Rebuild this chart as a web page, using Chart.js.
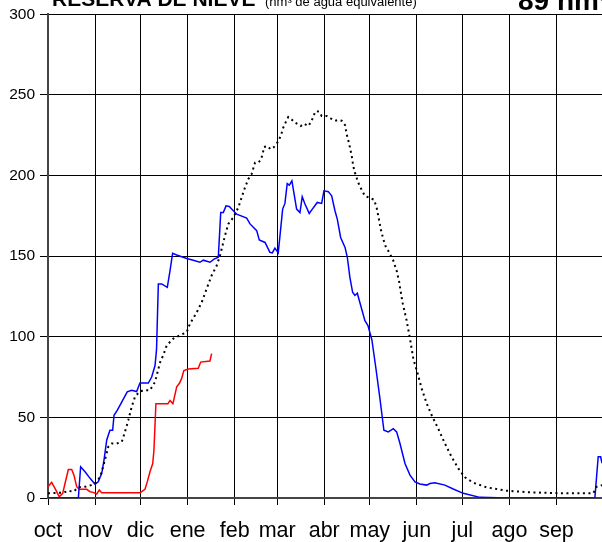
<!DOCTYPE html>
<html>
<head>
<meta charset="utf-8">
<script src="https://cdn.jsdelivr.net/npm/chart.js@4/dist/chart.umd.min.js"></script>
<style>
html,body{margin:0;padding:0;background:#fff;overflow:hidden;}
#wrap{position:relative;width:602px;height:542px;}
</style>
</head>
<body>
<div id="wrap"><canvas id="c" width="602" height="542"></canvas></div>
<script>
// ---- data ----
const titleMain = 'RESERVA DE NIEVE';
const titleUnit = '(hm³ de agua equivalente)';
const titleValue = '89 hm³';

const monthLabels = ['oct','nov','dic','ene','feb','mar','abr','may','jun','jul','ago','sep'];
const monthStartDays = [0,31,61,92,123,151,182,212,243,273,304,335,365];

// current season (red)
const redDays   = [0,2.4,4.6,7.4,9.7,11.2,13.4,15.6,17.1,18.9,20.6,25.5,27.7,29.8,32.1,33.8,35.4,60.6,61.7,63.9,65.4,67.2,69,69.8,71.1,79,80.4,82.3,84.8,86.5,88,89.5,92.5,99,100.6,106.7,107.8];
const redValues = [7,9.7,6,0.8,2.9,9,17.7,17.7,14.2,7,5.4,5.4,3.9,3.5,2.5,4.9,3.2,3.2,3.9,5.4,10,16.3,21.4,29.7,58.5,58.5,60.5,58.5,69,71,74,79,80,80.5,84.3,85,89.5];

// previous season (blue)
const blueDays   = [0,20,21.5,24.4,27.7,31,33.1,35.4,36.9,38.7,40.8,42.6,43.5,45.7,47.4,52.2,55.1,58.4,60.6,66.1,68.3,70.5,71.5,72.7,74.9,78.6,80.4,82.1,84.8,91.4,95.7,100.1,102.3,106.7,109.4,112.2,113.8,115.5,117.3,119.4,124.3,130.9,133.1,137.5,139.2,143,146.2,147.8,149.5,151.7,154.6,156.1,157.6,159,160.7,163.8,166,167.5,169.3,172.1,174.4,177.4,180.3,181.8,184.7,186.9,189.1,190.6,192.8,195.7,197.2,198.9,200.7,202.2,203.8,205.1,208.8,210.8,213.4,216.1,218.7,221.3,224.2,227.5,229.7,231.9,235.2,238.5,241.8,245,249.5,251.6,254.9,261.5,267,273.6,284.6,302.2,360.3,362.5,364.1,365];
const blueValues = [0,0,19.4,16.3,12.2,8.5,10,15.3,23.5,36,42,42,51.3,54.5,57.5,65.8,66.8,66,71.3,71.3,75,82,92,132.8,132.8,130.7,141,151.7,150.7,148.6,147.5,146.2,147.5,146.2,148.2,149.3,177,177,181.2,180.8,176,173.6,170,165.8,160,158.5,152.4,152,155,152,179.2,182.7,195,194,196.7,179.2,177,186.8,182.3,176.5,179.5,183.3,182.7,190.5,190,187.4,178,173,161.6,155.4,149.3,136.9,127.6,125.6,127,122.5,110,107,98,80,61.6,42,41,43,41,33.8,21.4,14.2,10,8.7,8,9,9.5,8,5.6,2.9,0.4,0,0,25.6,25.6,21.6];

// average (black dotted)
const avgDays   = [0,5.7,9.9,13.4,16.7,20,24.4,28.8,32.1,34.3,35.4,37.5,39.7,42,45.3,48.6,50.7,52.9,55.1,57.3,60.1,62.8,67.2,70.5,73.8,75.9,78.2,82.5,91.4,93.5,98,101.3,104.5,107.8,111.1,113.3,116.6,118.8,122.1,125.4,127.6,129.8,132,134.2,136.4,138.5,140.1,141.4,142.3,144.5,146.7,148.9,150.7,152.4,154,155,156.8,158.3,160.5,162.7,164.9,166.5,168.6,171.5,173.7,174.8,176.5,178.7,180.3,183.6,186.2,189.1,191.2,193.5,195.7,196.8,198.5,200.1,201.1,202.2,204.4,206.7,208.8,212.1,214.8,216.5,218,219.2,220.9,222.7,224.8,227.5,229.7,231.4,233,233.7,236.3,238.5,240.7,243.3,246.2,249.5,252.8,257.1,261.5,265.9,270.3,274.7,280.2,289,302.2,317.5,339.5,359.2,361.5,365];
const avgValues = [2.9,3.2,3.2,4.5,3.9,6.6,7,8,10,13.2,16.3,23.5,31.7,33.8,33.8,34.8,41,48.2,56.5,62.7,65.8,66.8,66.8,72,84,88.5,94.6,98.8,102.9,108,115.2,121.4,129.7,138,144,150.3,162.7,170,174,180.2,186.4,192.6,197.8,201,208,208,209.5,213.2,217.7,218.3,216.3,217.7,219.8,222.5,226.6,229.7,233.4,236.3,234.8,232.8,231.7,230.7,232.2,230.7,233.8,237,240,239.6,237,237,235.5,234,234.5,234,231.3,225.6,219.4,212.2,206,201.8,195.6,191,187.4,186,185,180.2,173,166.8,160.6,155.4,152.4,147.2,141,133.8,124.5,120.8,110,98.8,86.4,78,67.8,58.6,51.3,43,33.8,25.5,18.4,12.8,9.5,6.6,4.5,3.5,2.9,2.9,7,8];

const toXY = (xs, ys) => xs.map((x, i) => ({x: x, y: ys[i]}));

const FONT = '"Liberation Sans", Arial, sans-serif';

const titlePlugin = {
  id: 'titleText',
  afterDraw(chart) {
    const ctx = chart.ctx;
    ctx.save();
    ctx.fillStyle = '#000';
    ctx.textBaseline = 'alphabetic';
    ctx.textAlign = 'left';
    ctx.font = 'bold 21px ' + FONT;
    ctx.fillText(titleMain, 52, 6);
    ctx.font = '13px ' + FONT;
    ctx.fillText(titleUnit, 265, 5.5);
    ctx.font = 'bold 28px ' + FONT;
    ctx.fillText(titleValue, 518, 9.5);
    ctx.restore();
  }
};

new Chart(document.getElementById('c'), {
  type: 'line',
  data: {
    datasets: [
      {label: 'media', data: toXY(avgDays, avgValues), borderColor: '#000', borderWidth: 2, borderDash: [2, 3.5], pointRadius: 0, fill: false, tension: 0},
      {label: 'anterior', data: toXY(blueDays, blueValues), borderColor: '#0000ff', borderWidth: 1.5, pointRadius: 0, fill: false, tension: 0},
      {label: 'actual', data: toXY(redDays, redValues), borderColor: '#ff0000', borderWidth: 1.5, pointRadius: 0, fill: false, tension: 0}
    ]
  },
  options: {
    responsive: false,
    animation: false,
    events: [],
    layout: {padding: {top: 13, right: 0, left: 0, bottom: 0}},
    plugins: {legend: {display: false}, title: {display: false}, tooltip: {enabled: false}},
    scales: {
      x: {
        type: 'linear',
        min: 0, max: 365,
        afterBuildTicks: (s) => { s.ticks = monthStartDays.map(v => ({value: v})); },
        afterFit: (s) => { s.height = 44; s.paddingLeft = 0; s.paddingRight = 0; },
        grid: {color: '#000', lineWidth: 1, tickLength: 7, tickColor: '#000'},
        border: {color: '#444', width: 2},
        ticks: {
          autoSkip: false, maxRotation: 0, minRotation: 0,
          color: '#000', padding: 13,
          font: {family: FONT, size: 21.5},
          callback: (v, i) => monthLabels[i] !== undefined ? monthLabels[i] : ''
        }
      },
      y: {
        min: 0, max: 300,
        afterFit: (s) => { s.width = 48; },
        grid: {color: '#000', lineWidth: 1, tickLength: 8, tickColor: '#000'},
        border: {color: '#444', width: 2},
        ticks: {stepSize: 50, color: '#000', padding: 5, font: {family: FONT, size: 15.5}}
      }
    }
  },
  plugins: [titlePlugin]
});
</script>
</body>
</html>
